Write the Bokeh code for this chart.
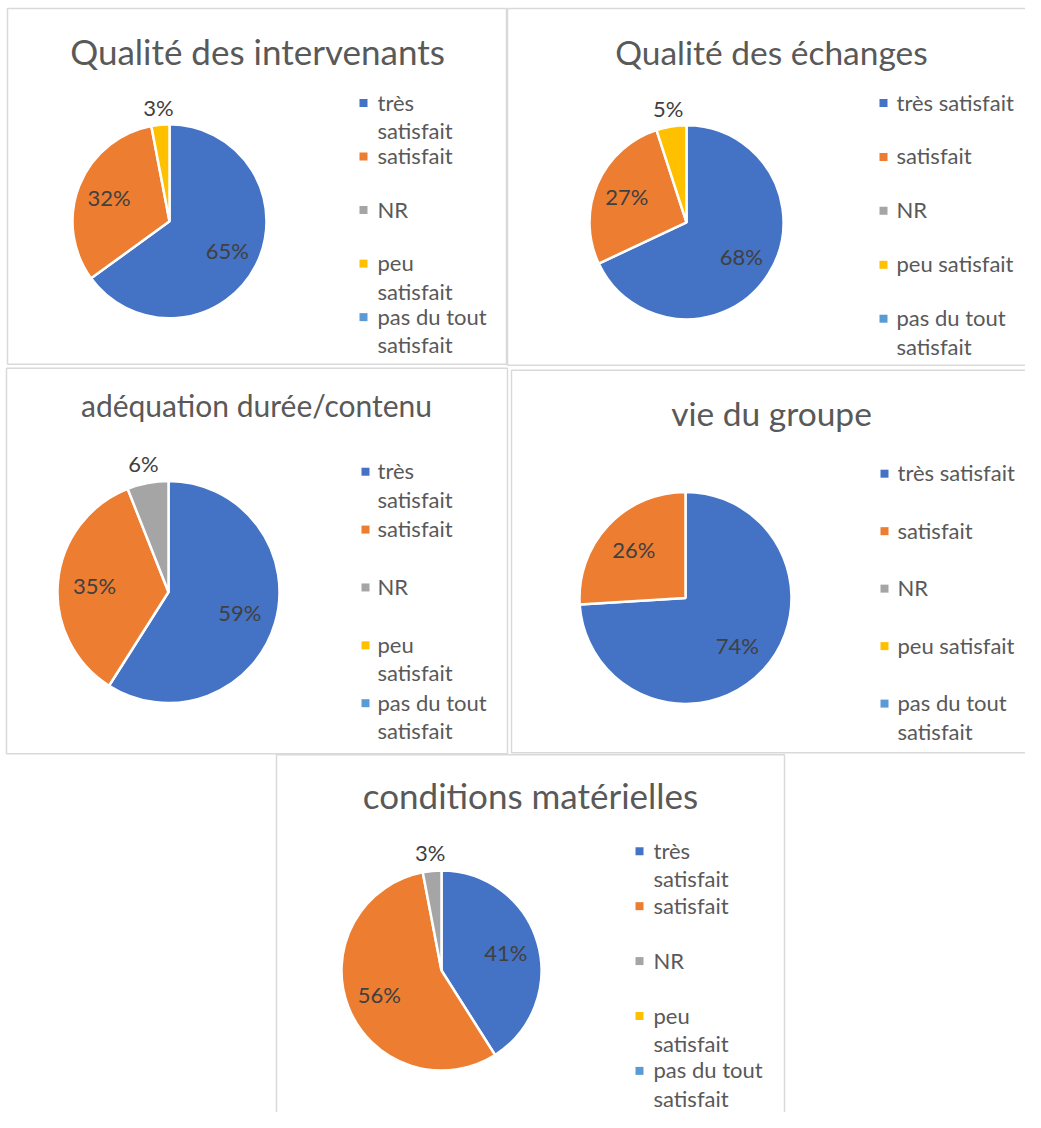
import math
from bokeh.plotting import figure
from bokeh.models import Range1d, ColumnDataSource
from bokeh.core.properties import value
from bokeh.embed import file_html
from bokeh.resources import INLINE

# ---------------- data ----------------
categories = ["très satisfait", "satisfait", "NR", "peu satisfait", "pas du tout satisfait"]
colors = ["#4472C4", "#ED7D31", "#A5A5A5", "#FFC000", "#5B9BD5"]
titles = ["Qualité des intervenants", "Qualité des échanges", "adéquation durée/contenu",
          "vie du groupe", "conditions matérielles"]
intervenants = [65, 32, 0, 3, 0]
echanges = [68, 27, 0, 5, 0]
adequation = [59, 35, 6, 0, 0]
vie_groupe = [74, 26, 0, 0, 0]
conditions = [41, 56, 3, 0, 0]
series = [intervenants, echanges, adequation, vie_groupe, conditions]

# ---------------- layout (reference pixel frame) ----------------
W_VIEW, H_REF = 1025, 1128
FONT = "Lato"
TXT = "#595959"
LBL = "#404040"

layout = [
    dict(box=(7, 8, 506, 369), tx=257, ty=65, ts=35, cx=169, cy=224, r=97,
         sqx=363, lx=377, ly0=111, lstep=54.3, narrow=True),
    dict(box=(507, 8, 1050, 370), tx=771, ty=65, ts=33.5, cx=686, cy=225, r=97,
         sqx=883, lx=896, ly0=111, lstep=54.7, narrow=False),
    dict(box=(6, 373, 507, 764), tx=256, ty=422, ts=30, cx=168, cy=600, r=111,
         sqx=365, lx=377, ly0=485, lstep=58.7, narrow=True),
    dict(box=(511, 375, 1050, 763), tx=771, ty=432, ts=33.5, cx=685, cy=606, r=106,
         sqx=884, lx=897, ly0=487, lstep=58.3, narrow=False),
    dict(box=(276, 765, 784, 1140), tx=530, ty=820, ts=35, cx=441, cy=984, r=100,
         sqx=639, lx=653, ly0=870, lstep=55.7, narrow=True),
]


def Y(y):
    return H_REF - y


def wrap(label, narrow):
    words = label.split(" ")
    if len(words) > 1 and (narrow or len(label) > 15):
        return [" ".join(words[:-1]), words[-1]]
    return [label]


p = figure(width=1025, height=1112, x_range=Range1d(0, W_VIEW), y_range=Range1d(0, H_REF),
           output_backend="svg", toolbar_location=None,
           x_axis_location=None, y_axis_location=None, min_border=0,
           outline_line_color=None, background_fill_color="white", border_fill_color="white")
p.xgrid.visible = False
p.ygrid.visible = False

for title, vals, L in zip(titles, series, layout):
    # frame
    x0, y0, x1, y1 = L["box"]
    p.quad(left=[x0], right=[x1], top=[Y(y0)], bottom=[Y(y1)], fill_color=None,
           line_color="#D9D9D9", line_width=1.5)
    # title (middle of the text box ~0.39 em above the baseline)
    p.text(x=[L["tx"]], y=[Y(L["ty"] - 0.39 * L["ts"])], text=[title], text_font=value(FONT),
           text_font_size=f"{L['ts']}px", text_color=TXT, text_align="center",
           text_baseline="middle")
    # pie
    total = float(sum(vals))
    cum = 0.0
    wx, wy, ws, we, wc = [], [], [], [], []
    lx, ly, lt = [], [], []
    for v, c in zip(vals, colors):
        f0 = cum / total
        cum += v
        f1 = cum / total
        if v <= 0:
            continue
        wx.append(L["cx"]); wy.append(Y(L["cy"]))
        ws.append(math.pi / 2 - 2 * math.pi * f1)
        we.append(math.pi / 2 - 2 * math.pi * f0)
        wc.append(c)
        mid = math.pi / 2 - math.pi * (f0 + f1)
        d = L["r"] * (1.2 if (f1 - f0) < 0.1 else 0.67)
        lx.append(L["cx"] + d * math.cos(mid))
        ly.append(Y(L["cy"]) + d * math.sin(mid))
        lt.append(f"{v}%")
    src = ColumnDataSource(dict(x=wx, y=wy, s=ws, e=we, c=wc))
    p.wedge(x="x", y="y", radius=L["r"], start_angle="s", end_angle="e",
            fill_color="c", line_color="white", line_width=2.5, source=src)
    p.text(x=lx, y=ly, text=lt, text_font=value(FONT), text_font_size="22px",
           text_color=LBL, text_align="center", text_baseline="middle")
    # legend
    sx, sy, sc = [], [], []
    tx, ty, tt = [], [], []
    for i, (cat, c) in enumerate(zip(categories, colors)):
        base = L["ly0"] + i * L["lstep"]
        sx.append(L["sqx"]); sy.append(Y(base - 7)); sc.append(c)
        for j, line in enumerate(wrap(cat, L["narrow"])):
            tx.append(L["lx"]); ty.append(Y(base + j * 29 - 8)); tt.append(line)
    p.scatter(x=sx, y=sy, marker="square", size=8, fill_color=sc, line_color=None)
    p.text(x=tx, y=ty, text=tt, text_font=value(FONT), text_font_size="22px",
           text_color=TXT, text_align="left", text_baseline="middle")

open("out.html", "w").write(file_html(p, INLINE))
